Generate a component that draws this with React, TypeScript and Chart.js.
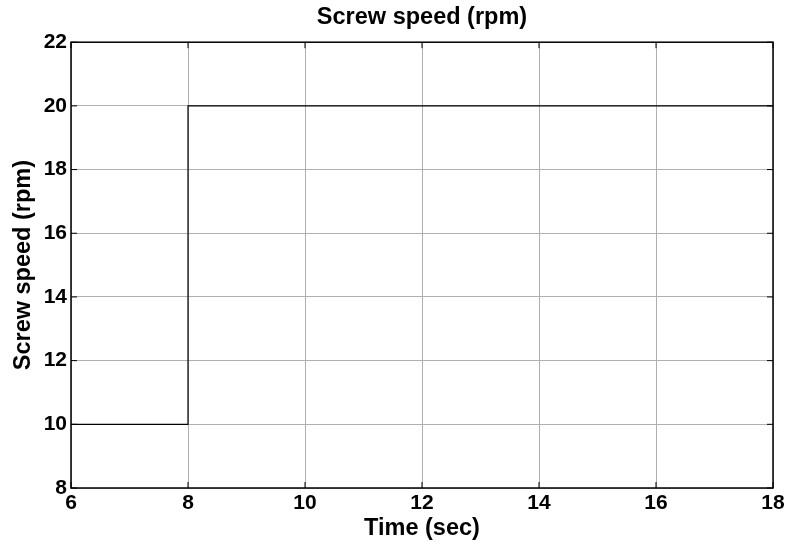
import React, { useEffect, useRef } from "react";
import { Chart, registerables } from "chart.js";

Chart.register(...registerables);

// Simulation time (s) and screw speed (rpm): step from 10 to 20 rpm at t = 8 s
const timeSec = [6, 8, 18];
const screwRpm = [10, 20, 20];

const xTicks = [6, 8, 10, 12, 14, 16, 18];
const yTicks = [8, 10, 12, 14, 16, 18, 20, 22];

const FONT = "'Liberation Sans', Arial, Helvetica, sans-serif";

// Closed axes box with inward tick marks on all four sides
const framePlugin = {
  id: "frame",
  afterDatasetsDraw(chart: any) {
    const { ctx, chartArea, scales } = chart;
    const { left, right, top, bottom } = chartArea;
    const x = scales.x;
    const y = scales.y;
    const len = 6;
    ctx.save();
    ctx.strokeStyle = "#000";
    ctx.lineWidth = 1;
    ctx.beginPath();
    x.ticks.forEach((t: any) => {
      const px = x.getPixelForValue(t.value);
      ctx.moveTo(px, bottom);
      ctx.lineTo(px, bottom - len);
      ctx.moveTo(px, top);
      ctx.lineTo(px, top + len);
    });
    y.ticks.forEach((t: any) => {
      const py = y.getPixelForValue(t.value);
      ctx.moveTo(left, py);
      ctx.lineTo(left + len, py);
      ctx.moveTo(right, py);
      ctx.lineTo(right - len, py);
    });
    ctx.stroke();
    ctx.lineWidth = 1.5;
    ctx.strokeRect(left, top, right - left, bottom - top);
    ctx.restore();
  },
};

export default function App() {
  const canvasRef = useRef<HTMLCanvasElement | null>(null);

  useEffect(() => {
    if (!canvasRef.current) return;
    const chart = new Chart(canvasRef.current, {
      type: "line",
      data: {
        datasets: [
          {
            label: "Screw speed",
            data: timeSec.map((t, i) => ({ x: t, y: screwRpm[i] })),
            borderColor: "#000",
            borderWidth: 1.2,
            pointRadius: 0,
            stepped: "before",
            fill: false,
          },
        ],
      },
      options: {
        responsive: false,
        animation: false,
        devicePixelRatio: 1,
        layout: { padding: { left: 0, right: 16, top: 0, bottom: 0 } },
        plugins: {
          legend: { display: false },
          tooltip: { enabled: false },
          title: {
            display: true,
            fullSize: false,
            text: "Screw speed (rpm)",
            color: "#000",
            font: { family: FONT, size: 23.5, weight: "bold", lineHeight: 1.2 },
            padding: { top: 3, bottom: 11 },
          },
        },
        scales: {
          x: {
            type: "linear",
            min: 6,
            max: 18,
            afterBuildTicks: (scale: any) => {
              scale.ticks = xTicks.map((v) => ({ value: v }));
            },
            afterFit: (scale: any) => {
              scale.height = 62;
            },
            border: { display: false },
            grid: { color: "#b0b0b0", lineWidth: 1, drawTicks: false },
            ticks: {
              color: "#000",
              padding: 3,
              maxRotation: 0,
              font: { family: FONT, size: 21, weight: "bold", lineHeight: 1.2 },
            },
            title: {
              display: true,
              text: "Time (sec)",
              color: "#000",
              font: { family: FONT, size: 23.5, weight: "bold", lineHeight: 1.2 },
              padding: { top: 0, bottom: 7 },
            },
          },
          y: {
            type: "linear",
            min: 8,
            max: 22,
            afterBuildTicks: (scale: any) => {
              scale.ticks = yTicks.map((v) => ({ value: v }));
            },
            afterFit: (scale: any) => {
              scale.width = 71;
            },
            border: { display: false },
            grid: { color: "#b0b0b0", lineWidth: 1, drawTicks: false },
            ticks: {
              color: "#000",
              padding: 4,
              font: { family: FONT, size: 21, weight: "bold", lineHeight: 1.2 },
            },
            title: {
              display: true,
              text: "Screw speed (rpm)",
              color: "#000",
              font: { family: FONT, size: 23.5, weight: "bold", lineHeight: 1.2 },
              padding: { top: 9, bottom: 0 },
            },
          },
        },
      },
      plugins: [framePlugin],
    });
    return () => chart.destroy();
  }, []);

  return (
    <div style={{ position: "absolute", left: 0, top: 0, width: 789, height: 550, background: "#fff" }}>
      <canvas ref={canvasRef} width={789} height={550} />
    </div>
  );
}
